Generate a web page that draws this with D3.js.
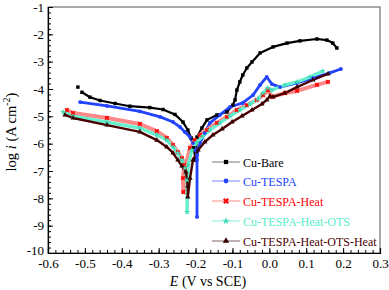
<!DOCTYPE html>
<html lang="en">
<head>
<meta charset="UTF-8">
<title>Tafel plots</title>
<script src="https://d3js.org/d3.v7.min.js"></script>
<style>
  body { margin: 0; background: #fff; }
  svg { display: block; }
  text { font-family: "Liberation Serif", "Times New Roman", serif; }
  .axis path, .axis line { stroke: #000; }
</style>
</head>
<body>
<svg width="389" height="290"></svg>
<script>
// tick labels
const xTicks = [-0.6, -0.5, -0.4, -0.3, -0.2, -0.1, 0.0, 0.1, 0.2, 0.3];
const xTickLabels = ["-0.6", "-0.5", "-0.4", "-0.3", "-0.2", "-0.1", "0.0", "0.1", "0.2", "0.3"];
const yTicks = [-1, -2, -3, -4, -5, -6, -7, -8, -9, -10];
const yTickLabels = ["-1", "-2", "-3", "-4", "-5", "-6", "-7", "-8", "-9", "-10"];

// series: [E (V vs SCE), log i]
const cuBare = [
  [-0.519, -3.93], [-0.508, -4.12], [-0.486, -4.30], [-0.459, -4.42], [-0.418, -4.53],
  [-0.378, -4.63], [-0.324, -4.68], [-0.288, -4.75], [-0.256, -4.93], [-0.234, -5.21],
  [-0.221, -5.50], [-0.212, -5.79], [-0.205, -6.15], [-0.200, -6.60],
  [-0.196, -5.76], [-0.183, -5.43], [-0.169, -5.13], [-0.142, -4.95], [-0.115, -4.84],
  [-0.099, -4.59], [-0.093, -4.40], [-0.088, -4.04], [-0.080, -3.74], [-0.072, -3.49],
  [-0.061, -3.23], [-0.047, -3.01], [-0.025, -2.68], [0.010, -2.46], [0.048, -2.32],
  [0.083, -2.24], [0.129, -2.17], [0.156, -2.21], [0.172, -2.32], [0.183, -2.50]
];
const cuTespa = [
  [-0.513, -4.48], [-0.440, -4.62], [-0.351, -4.82], [-0.296, -5.02], [-0.261, -5.21],
  [-0.242, -5.39], [-0.229, -5.57], [-0.215, -5.76], [-0.207, -5.98], [-0.199, -6.23],
  [-0.196, -6.60], [-0.196, -8.68], [-0.196, -6.42],
  [-0.188, -5.98], [-0.175, -5.61], [-0.161, -5.24], [-0.134, -4.95], [-0.107, -4.66],
  [-0.072, -4.51], [-0.044, -4.22], [-0.025, -3.85], [-0.007, -3.56], [0.007, -3.82],
  [0.029, -3.93], [0.075, -3.78], [0.118, -3.60], [0.164, -3.41], [0.194, -3.27]
];
const cuTespaHeat = [
  [-0.549, -4.77], [-0.532, -4.88], [-0.440, -5.06], [-0.351, -5.28], [-0.305, -5.54],
  [-0.278, -5.79], [-0.261, -6.05], [-0.248, -6.31], [-0.237, -6.53], [-0.231, -6.78],
  [-0.234, -7.26], [-0.233, -7.77], [-0.229, -6.89],
  [-0.215, -6.16], [-0.202, -5.87], [-0.188, -5.68], [-0.169, -5.50], [-0.142, -5.24],
  [-0.115, -5.02], [-0.088, -4.77], [-0.061, -4.59], [-0.034, -4.40], [-0.017, -4.22],
  [-0.004, -4.04], [0.007, -4.29], [0.042, -4.15], [0.075, -4.07], [0.129, -3.85], [0.159, -3.74]
];
const cuTespaHeatOts = [
  [-0.559, -4.84], [-0.532, -4.99], [-0.440, -5.21], [-0.351, -5.43], [-0.305, -5.68],
  [-0.278, -5.87], [-0.261, -6.12], [-0.248, -6.34], [-0.237, -6.60], [-0.229, -6.89],
  [-0.223, -7.33], [-0.223, -8.50], [-0.220, -6.78],
  [-0.210, -6.23], [-0.196, -5.94], [-0.180, -5.72], [-0.161, -5.50], [-0.134, -5.24],
  [-0.107, -4.99], [-0.080, -4.77], [-0.053, -4.55], [-0.031, -4.37], [-0.017, -4.15],
  [-0.004, -3.96], [0.007, -4.04], [0.042, -3.85], [0.075, -3.74], [0.110, -3.56], [0.145, -3.34]
];
const cuTespaHeatOtsHeat = [
  [-0.554, -4.95], [-0.532, -5.06], [-0.440, -5.32], [-0.351, -5.57], [-0.305, -5.87],
  [-0.278, -6.12], [-0.261, -6.34], [-0.248, -6.60], [-0.237, -6.82], [-0.226, -7.04],
  [-0.221, -7.55], [-0.221, -7.95], [-0.215, -7.26],
  [-0.207, -6.60], [-0.193, -6.23], [-0.175, -5.94], [-0.153, -5.68], [-0.128, -5.46],
  [-0.101, -5.21], [-0.074, -4.99], [-0.047, -4.77], [-0.020, -4.55], [-0.007, -4.40],
  [0.002, -4.26], [0.010, -4.29], [0.042, -4.15], [0.075, -3.93], [0.118, -3.67], [0.159, -3.45]
];

const seriesNames = ["Cu-Bare", "Cu-TESPA", "Cu-TESPA-Heat", "Cu-TESPA-Heat-OTS", "Cu-TESPA-Heat-OTS-Heat"];
const seriesData = [cuBare, cuTespa, cuTespaHeat, cuTespaHeatOts, cuTespaHeatOtsHeat];

const styles = [
  { band: "#000000", mark: "#000000", text: "#000000", symbol: d3.symbolSquare, w: 2.2, legLine: "#777" },
  { band: "#2244ff", mark: "#2244ff", text: "#2244ff", symbol: d3.symbolCircle, w: 2.8, legLine: "#7788ff" },
  { band: "#ff8888", mark: "#ff0000", text: "#ff0000", symbol: d3.symbolCross, w: 4, legLine: "#ff8888" },
  { band: "#66f0cc", mark: "#44ddbb", text: "#55eecc", symbol: d3.symbolStar, w: 3.2, legLine: "#88f0dd" },
  { band: "#4a0000", mark: "#3a0000", text: "#4a0000", symbol: d3.symbolTriangle, w: 2.4, legLine: "#806060" }
];

const svg = d3.select("svg");
const plotL = 48, plotR = 380, plotT = 7, plotB = 253;

const x = d3.scaleLinear().domain([-0.6, 0.3]).range([plotL, plotR]);
const y = d3.scaleLinear().domain([-10, -1]).range([plotB, plotT]);

// frame
svg.append("rect")
  .attr("x", plotL).attr("y", plotT)
  .attr("width", plotR - plotL).attr("height", plotB - plotT)
  .attr("fill", "none").attr("stroke", "#555").attr("stroke-width", 1);

// minor ticks
svg.append("g").attr("class", "axis")
  .attr("transform", `translate(0,${plotB})`)
  .call(d3.axisBottom(x).tickValues(d3.range(-0.6, 0.301, 0.02)).tickSize(-3).tickFormat(""))
  .call(g => g.select(".domain").remove());
svg.append("g").attr("class", "axis")
  .attr("transform", `translate(${plotL},0)`)
  .call(d3.axisLeft(y).tickValues(d3.range(-10, -0.99, 0.2)).tickSize(-3).tickFormat(""))
  .call(g => g.select(".domain").remove());

// major axes
const xAxis = svg.append("g").attr("class", "axis")
  .attr("transform", `translate(0,${plotB})`)
  .call(d3.axisBottom(x).tickValues(xTicks).tickSize(-5).tickPadding(6)
    .tickFormat((d, i) => xTickLabels[i]));
xAxis.selectAll("text").attr("font-size", 13).attr("fill", "#000");
xAxis.select(".domain").attr("stroke-width", 1.2);

const yAxis = svg.append("g").attr("class", "axis")
  .attr("transform", `translate(${plotL},0)`)
  .call(d3.axisLeft(y).tickValues(yTicks).tickSize(-5).tickPadding(4)
    .tickFormat((d, i) => yTickLabels[i]));
yAxis.selectAll("text").attr("font-size", 13).attr("fill", "#000");
yAxis.selectAll("text").filter(d => d === -10).attr("dy", "0.15em");
yAxis.select(".domain").attr("stroke-width", 1.2);

// axis titles
const xt = svg.append("text")
  .attr("x", 208).attr("y", 286)
  .attr("text-anchor", "middle").attr("font-size", 14);
xt.append("tspan").attr("font-style", "italic").text("E");
xt.append("tspan").text(" (V vs SCE)");

const yt = svg.append("text")
  .attr("transform", "translate(16,132) rotate(-90)")
  .attr("text-anchor", "middle").attr("font-size", 14.5);
yt.append("tspan").text("log ");
yt.append("tspan").attr("font-style", "italic").text("i");
yt.append("tspan").text(" (A cm");
yt.append("tspan").attr("font-size", 10).attr("dy", -6).text("-2");
yt.append("tspan").attr("dy", 6).text(")");

// curves (the first Cu-Bare point stands apart from its curve)
const line = d3.line().x(d => x(d[0])).y(d => y(d[1]));
const plot = svg.append("g");

seriesData.forEach((data, k) => {
  const s = styles[k];
  plot.append("path")
    .datum(k === 0 ? data.slice(1) : data)
    .attr("d", line)
    .attr("fill", "none")
    .attr("stroke", s.band)
    .attr("stroke-width", s.w)
    .attr("stroke-linejoin", "round");
});
seriesData.forEach((data, k) => {
  const s = styles[k];
  plot.selectAll(null)
    .data(data)
    .enter().append("path")
    .attr("transform", d => `translate(${x(d[0])},${y(d[1])})` + (k === 2 ? " rotate(45)" : ""))
    .attr("d", d3.symbol().type(s.symbol).size(k === 2 ? 14 : 12))
    .attr("fill", s.mark);
});

// legend
const legend = svg.append("g");
const legY = [162, 181, 201, 221, 241];
seriesNames.forEach((name, k) => {
  const s = styles[k];
  const g = legend.append("g").attr("transform", `translate(0,${legY[k]})`);
  g.append("line").attr("x1", 212).attr("x2", 240).attr("y1", 0).attr("y2", 0)
    .attr("stroke", s.legLine).attr("stroke-width", 1);
  g.append("path")
    .attr("transform", `translate(226,0)` + (k === 2 ? " rotate(45)" : ""))
    .attr("d", d3.symbol().type(s.symbol).size(k === 2 ? 22 : 18))
    .attr("fill", s.mark);
  g.append("text").attr("x", 243).attr("y", 4.5)
    .attr("font-size", 12).attr("fill", s.text).text(name);
});
</script>
</body>
</html>
